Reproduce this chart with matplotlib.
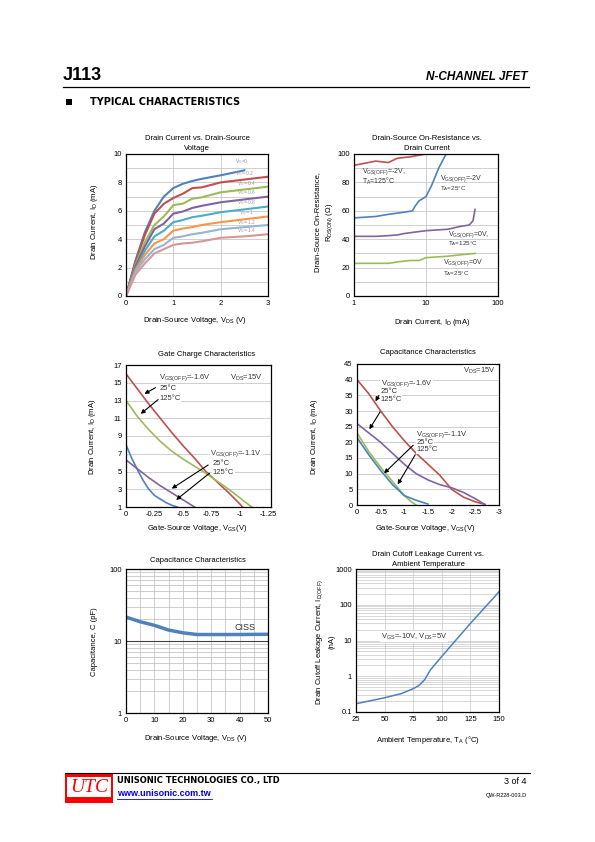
import matplotlib
matplotlib.use('Agg')
import matplotlib.pyplot as plt
from matplotlib.lines import Line2D
from matplotlib.patches import Rectangle
from matplotlib.ticker import FixedLocator, NullFormatter, LogLocator

plt.rcParams['font.family'] = ['Liberation Sans', 'DejaVu Sans']
plt.rcParams['mathtext.default'] = 'regular'

# ---- data: drain current vs drain-source voltage ----
vds_pts = [0, 0.2, 0.4, 0.6, 0.8, 1.0, 1.2, 1.4, 1.6, 2.0, 2.5, 3.0]
id_vg0 = [0, 2.5, 4.5, 6.0, 7.0, 7.6, 7.9, 8.1, 8.25, 8.5, 8.85]
id_vg02 = [0, 2.4, 4.3, 5.8, 6.5, 6.9, 7.2, 7.6, 7.65, 8.0, 8.2, 8.4]
id_vg04 = [0, 2.2, 3.8, 5.0, 5.6, 6.4, 6.5, 6.85, 6.95, 7.3, 7.5, 7.7]
id_vg06 = [0, 2.1, 3.5, 4.7, 5.1, 5.8, 5.95, 6.2, 6.35, 6.6, 6.8, 7.0]
id_vg08 = [0, 1.9, 3.2, 4.2, 4.6, 5.2, 5.35, 5.55, 5.65, 5.9, 6.1, 6.3]
id_vg10 = [0, 1.8, 2.9, 3.7, 4.0, 4.6, 4.75, 4.85, 5.0, 5.2, 5.4, 5.6]
id_vg12 = [0, 1.7, 2.6, 3.3, 3.6, 4.1, 4.2, 4.35, 4.45, 4.7, 4.85, 5.0]
id_vg14 = [0, 1.5, 2.3, 3.0, 3.3, 3.6, 3.7, 3.75, 3.85, 4.1, 4.2, 4.35]
vg_labels = ['0', '-0.2', '-0.4', '-0.6', '-0.8', '-1', '-1.2', '-1.4']

# ---- data: on-resistance vs drain current ----
id_r_hot2 = [1, 2, 3, 4, 6, 10]
r_hot2 = [92, 95, 94, 97, 98, 100]
id_r_cold2 = [1, 2, 3, 5, 6.5, 7, 8, 10, 12, 15, 19]
r_cold2 = [55, 56, 57.5, 59, 60, 63, 67, 70, 78, 90, 100]
id_r_hot0 = [1, 2, 3, 4, 5, 7, 10, 20, 30, 40, 45, 48]
r_hot0 = [42, 42, 42.5, 43, 44, 45, 46, 47, 49, 50, 53, 61]
id_r_cold0 = [1, 3, 4, 6, 8, 10, 20, 30, 48]
r_cold0 = [23, 23, 24, 25, 25, 27, 28, 29, 30]

# ---- data: gate charge characteristics ----
vgs_a = [0, -0.1, -0.2, -0.3, -0.4, -0.5, -0.6, -0.7, -0.8, -0.9, -1.0, -1.02]
id_a_red = [16, 14.3, 12.6, 11.0, 9.4, 7.9, 6.5, 5.0, 3.8, 2.6, 1.3, 1.0]
vgs_a_g = [0, -0.1, -0.2, -0.3, -0.4, -0.5, -0.6, -0.7, -0.8, -0.9, -1.0, -1.1]
id_a_green = [13, 11.2, 9.7, 8.4, 7.3, 6.4, 5.6, 4.8, 3.9, 3.0, 2.0, 1.0]
vgs_a_b = [0, -0.05, -0.1, -0.15, -0.2, -0.25, -0.3, -0.35, -0.4, -0.45]
id_a_blue = [8, 6.5, 5.2, 4.0, 3.0, 2.3, 1.9, 1.5, 1.2, 1.0]
vgs_a_p = [0, -0.1, -0.2, -0.3, -0.4, -0.5, -0.6]
id_a_purple = [6.3, 5.3, 4.3, 3.4, 2.6, 1.8, 1.0]

# ---- data: capacitance characteristics (drain current vs vgs) ----
vgs_b = [0, -0.25, -0.5, -0.75, -1, -1.25, -1.5, -1.75, -2.0, -2.25, -2.5, -2.7]
id_b_red = [40, 35.5, 30, 25, 20.5, 16.5, 13, 9.5, 5, 2.5, 1.0, 0.2]
id_b_purple = [26, 23, 20, 16.5, 13, 10, 8, 6.5, 5.5, 4, 2, 0.2]
vgs_b_g = [0, -0.25, -0.5, -0.75, -1, -1.15, -1.25]
id_b_green = [23, 17, 12, 7.5, 3, 1, 0]
vgs_b_b = [0, -0.25, -0.5, -0.75, -1, -1.25, -1.5]
id_b_blue = [21.5, 16, 11, 6.5, 3, 1.5, 0.3]

# ---- data: capacitance vs vds ----
vds_c = [0, 5, 10, 15, 20, 25, 30, 40, 50]
ciss = [21.5, 18.5, 16.5, 14.2, 13, 12.3, 12.3, 12.3, 12.4]

# ---- data: leakage vs temperature ----
temp = [25, 50, 65, 75, 80, 85, 90, 100, 125, 150]
idoff = [0.17, 0.25, 0.33, 0.45, 0.55, 0.8, 1.5, 3.6, 30, 230]

W, H = 595, 842
fig = plt.figure(figsize=(W / 100, H / 100), dpi=100)

blue = '#4f81bd'
red = '#c0504d'
green = '#9bbb59'
purple = '#8064a2'
teal = '#4bacc6'
orange = '#f79646'
lblue = '#95b3d7'
pink = '#d99694'
grid_c = '#c8c8c8'
fs = 5.5


def box(x0, y0, x1, y1):
    ax = fig.add_axes([x0 / W, 1 - y1 / H, (x1 - x0) / W, (y1 - y0) / H])
    for s in ax.spines.values():
        s.set_linewidth(0.9)
    ax.tick_params(which='both', length=0, labelsize=fs, pad=3)
    ax.set_axisbelow(True)
    return ax


def ftext(x, y, s, **kw):
    kw.setdefault('fontsize', fs)
    kw.setdefault('ha', 'center')
    kw.setdefault('va', 'center')
    fig.text(x / W, 1 - y / H, s, **kw)


def note(ax, s, xy, size=fs, **kw):
    ax.text(xy[0], xy[1], s, fontsize=size, color='#333333', va='center', **kw)


def arrow(ax, start, end):
    ax.annotate('', xy=end, xytext=start,
                arrowprops=dict(arrowstyle='-|>', color='k', lw=0.8, mutation_scale=6))


# header
ftext(63, 75, 'J113', fontsize=13, weight='bold', ha='left')
ftext(528, 77, 'N-CHANNEL JFET', fontsize=8.5, weight='bold', style='italic', ha='right')
fig.add_artist(Line2D([63 / W, 529 / W], [1 - 87 / H] * 2, color='k', lw=0.9))
fig.add_artist(Rectangle((66 / W, 1 - 105 / H), 6 / W, 6 / H, color='k', lw=0))
ftext(90, 102, 'TYPICAL CHARACTERISTICS', fontsize=7, weight='bold', ha='left',
      family='DejaVu Sans')

# ---- chart 1 ----
ax = box(126, 154, 268, 296)
curves1 = [id_vg0, id_vg02, id_vg04, id_vg06, id_vg08, id_vg10, id_vg12, id_vg14]
cols1 = [blue, red, green, purple, teal, orange, lblue, pink]
for yv, c in zip(curves1, cols1):
    ax.plot(vds_pts[:len(yv)], yv, color=c, lw=1.5)
lab_y = [9.45, 8.65, 7.95, 7.25, 6.55, 5.85, 5.2, 4.6]
lab_x = [2.45, 2.5, 2.55, 2.55, 2.55, 2.55, 2.55, 2.55]
for lab, lx, ly in zip(vg_labels, lab_x, lab_y):
    ax.text(lx, ly, 'V$_G$=' + lab, fontsize=3.5, color='#999999', ha='center', va='center')
ax.set_xlim(0, 3)
ax.set_ylim(0, 10)
ax.set_xticks([0, 1, 2, 3])
ax.set_yticks([0, 2, 4, 6, 8, 10])
ax.yaxis.set_minor_locator(FixedLocator(range(1, 10)))
ax.grid(which='both', color=grid_c, lw=0.6)
ftext(197, 138, 'Drain Current vs. Drain-Source')
ftext(197, 148, 'Voltage')
ftext(195, 320, 'Drain-Source Voltage, V$_{DS}$ (V)')
ftext(95, 222, 'Drain Current, I$_D$ (mA)', rotation=90)

# ---- chart 2 ----
ax = box(354, 154, 498, 296)
ax.plot(id_r_hot2, r_hot2, color=red, lw=1.2)
ax.plot(id_r_cold2, r_cold2, color=blue, lw=1.2)
ax.plot(id_r_hot0, r_hot0, color=purple, lw=1.2)
ax.plot(id_r_cold0, r_cold0, color=green, lw=1.2)
ax.set_xscale('log')
ax.set_xlim(1, 100)
ax.set_ylim(0, 100)
ax.set_xticks([1, 10, 100])
ax.set_xticklabels(['1', '10', '100'])
ax.xaxis.set_minor_locator(FixedLocator([]))
ax.set_yticks(range(0, 101, 20))
ax.yaxis.set_minor_locator(FixedLocator(range(10, 100, 20)))
ax.grid(which='both', color=grid_c, lw=0.6)
note(ax, 'V$_{GS(OFF)}$=-2V,', (1.3, 87.5), size=5)
note(ax, 'T$_A$=125°C', (1.3, 80.5), size=5)
note(ax, 'V$_{GS(OFF)}$=-2V', (15.5, 83), size=5)
note(ax, 'T$_A$=25°C', (15.5, 75.5), size=4.5)
note(ax, 'V$_{GS(OFF)}$=0V,', (20, 43.5), size=5)
note(ax, 'T$_A$=125°C', (20, 37), size=4.5)
note(ax, 'V$_{GS(OFF)}$=0V', (17, 23.3), size=5)
note(ax, 'T$_A$=25°C', (17, 15.5), size=4.5)
ftext(427, 139, 'Drain-Source On-Resistance vs.')
ftext(427, 148, 'Drain Current')
ftext(432, 322, 'Drain Current, I$_D$ (mA)')
ftext(318, 222, 'Drain-Source On-Resistance,', rotation=90)
ftext(330, 222, 'R$_{DS(ON)}$ (Ω)', rotation=90)

# ---- chart 3 ----
ax = box(126, 365, 271, 507)
ax.plot(vgs_a, id_a_red, color=red, lw=1.2)
ax.plot(vgs_a_g, id_a_green, color=green, lw=1.2)
ax.plot(vgs_a_b, id_a_blue, color=blue, lw=1.2)
ax.plot(vgs_a_p, id_a_purple, color=purple, lw=1.2)
ax.set_xlim(0, -1.27)
ax.set_ylim(1, 17)
ax.set_xticks([0, -0.25, -0.5, -0.75, -1, -1.25])
ax.set_xticklabels(['0', '-0.25', '-0.5', '-0.75', '-1', '-1.25'])
ax.set_yticks(range(1, 18, 2))
ax.grid(axis='y', color=grid_c, lw=0.6)
bb = dict(fc='white', ec='none', pad=0.3)
note(ax, 'V$_{GS(OFF)}$=-1.6V', (-0.29, 15.6), bbox=bb)
note(ax, '25°C', (-0.29, 14.4), bbox=bb)
note(ax, '125°C', (-0.29, 13.2), bbox=bb)
note(ax, 'V$_{DS}$=15V', (-1.2, 15.6), ha='right', bbox=bb)
note(ax, 'V$_{GS(OFF)}$=-1.1V', (-0.74, 7.0), bbox=bb)
note(ax, '25°C', (-0.76, 5.9), bbox=bb)
note(ax, '125°C', (-0.76, 4.9), bbox=bb)
arrow(ax, (-0.28, 14.6), (-0.14, 13.6))
arrow(ax, (-0.30, 13.3), (-0.11, 11.3))
arrow(ax, (-0.74, 5.9), (-0.38, 2.9))
arrow(ax, (-0.75, 5.0), (-0.42, 1.6))
ftext(207, 354, 'Gate Charge Characteristics')
ftext(197, 528, 'Gate-Source Voltage, V$_{GS}$(V)')
ftext(93, 437, 'Drain Current, I$_D$ (mA)', rotation=90)

# ---- chart 4 ----
ax = box(357, 364, 499, 505)
ax.plot(vgs_b, id_b_red, color=red, lw=1.2)
ax.plot(vgs_b, id_b_purple, color=purple, lw=1.2)
ax.plot(vgs_b_g, id_b_green, color=green, lw=1.2)
ax.plot(vgs_b_b, id_b_blue, color=blue, lw=1.2)
ax.set_xlim(0, -3)
ax.set_ylim(0, 45)
ax.set_xticks([0, -0.5, -1, -1.5, -2, -2.5, -3])
ax.set_xticklabels(['0', '-0.5', '-1', '-1.5', '-2', '-2.5', '-3'])
ax.set_yticks(range(0, 46, 5))
ax.grid(axis='y', color=grid_c, lw=0.6)
note(ax, 'V$_{GS(OFF)}$=-1.6V', (-0.5, 38.8), bbox=bb)
note(ax, '25°C', (-0.5, 36.3), bbox=bb)
note(ax, '125°C', (-0.5, 33.8), bbox=bb)
note(ax, 'V$_{DS}$=15V', (-2.93, 42.8), ha='right', bbox=bb)
note(ax, 'V$_{GS(OFF)}$=-1.1V', (-1.25, 22.6), bbox=bb)
note(ax, '25°C', (-1.25, 20.1), bbox=bb)
note(ax, '125°C', (-1.25, 17.6), bbox=bb)
arrow(ax, (-0.49, 35.7), (-0.36, 32.3))
arrow(ax, (-0.52, 30.5), (-0.23, 23.4))
arrow(ax, (-1.23, 19.7), (-0.53, 9.5))
arrow(ax, (-1.26, 16.8), (-0.83, 5.8))
ftext(428, 352, 'Capacitance Characteristics')
ftext(425, 528, 'Gate-Source Voltage, V$_{GS}$(V)')
ftext(315, 437, 'Drain Current, I$_D$ (mA)', rotation=90)

# ---- chart 5 ----
ax = box(126, 569, 268, 713)
ax.plot(vds_c, ciss, color=blue, lw=2.5)
ax.set_yscale('log')
ax.set_xlim(0, 50)
ax.set_ylim(1, 100)
ax.set_xticks(range(0, 51, 10))
ax.xaxis.set_minor_locator(FixedLocator(range(5, 50, 10)))
ax.set_yticks([1, 10, 100])
ax.set_yticklabels(['1', '10', '100'])
ax.yaxis.set_minor_locator(LogLocator(base=10, subs=range(2, 10)))
ax.yaxis.set_minor_formatter(NullFormatter())
ax.grid(which='both', color='#bbbbbb', lw=0.5)
ax.axhline(10, color='#444444', lw=0.8)
ax.text(42, 15.5, 'CISS', fontsize=6.5, color='#333333', ha='center', va='center')
ftext(198, 560, 'Capacitance Characteristics')
ftext(196, 738, 'Drain-Source Voltage, V$_{DS}$ (V)')
ftext(95, 642, 'Capacitance, C (pF)', rotation=90)

# ---- chart 6 ----
ax = box(356, 569, 499, 712)
ax.plot(temp, idoff, color=blue, lw=1.1)
ax.set_yscale('log')
ax.set_xlim(25, 150)
ax.set_ylim(0.1, 1000)
ax.set_xticks(range(25, 151, 25))
ax.set_yticks([0.1, 1, 10, 100, 1000])
ax.set_yticklabels(['0.1', '1', '10', '100', '1000'])
ax.yaxis.set_minor_locator(LogLocator(base=10, subs=range(2, 10)))
ax.yaxis.set_minor_formatter(NullFormatter())
ax.grid(which='both', color='#c8c8c8', lw=0.5)
ax.text(47, 13, 'V$_{GS}$=-10V, V$_{DS}$=5V', fontsize=fs, color='#333333', va='center',
        bbox=dict(fc='white', ec='none', pad=0.5))
ftext(428, 554, 'Drain Cutoff Leakage Current vs.')
ftext(428, 564, 'Ambient Temperature')
ftext(428, 740, 'Ambient Temperature, T$_A$ (°C)')
ftext(320, 642, 'Drain Cutoff Leakage Current, I$_{D(OFF)}$', rotation=90)
ftext(332, 642, '(nA)', rotation=90)

# footer
fig.add_artist(Line2D([65 / W, 530 / W], [1 - 773 / H] * 2, color='k', lw=0.8))
fig.add_artist(Rectangle((65 / W, 1 - 803 / H), 48 / W, 30 / H, color='#ff0000', lw=0))
fig.add_artist(Rectangle((67 / W, 1 - 797 / H), 44 / W, 20 / H, color='white', lw=0))
ftext(89, 787, 'UTC', fontsize=14, color='#ff0000', style='italic',
      family='Liberation Serif')
ftext(117, 781, 'UNISONIC TECHNOLOGIES CO., LTD', fontsize=6, weight='bold', ha='left',
      family='DejaVu Sans')
ftext(117, 794, 'www.unisonic.com.tw', fontsize=6.5, weight='bold', color='#0000ee', ha='left')
fig.add_artist(Line2D([117 / W, 212 / W], [1 - 799 / H] * 2, color='#0000ee', lw=0.6))
ftext(527, 781, '3 of 4', fontsize=6.5, ha='right')
ftext(527, 796, 'QW-R228-003.D', fontsize=4, ha='right')

fig.savefig('out.png', dpi=100)
